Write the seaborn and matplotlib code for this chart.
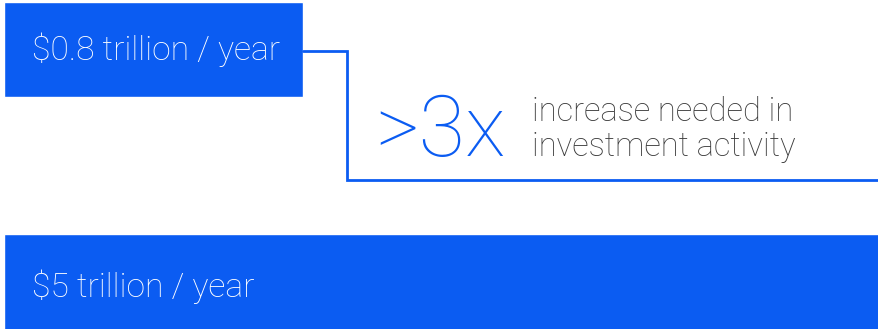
import matplotlib
matplotlib.use("Agg")
import matplotlib.pyplot as plt
import seaborn as sns
import pandas as pd

# Data
categories = ["current", "needed"]
bar_labels = ["$0.8 trillion / year", "$5 trillion / year"]
bar_lengths = [1.71, 5.0]          # drawn bar lengths
multiplier_text = ">3x"
note_text = "increase needed in\ninvestment activity"

BLUE = "#0b5cf2"
GRAY = "#3a3a3a"

sns.set_theme(style="white")
plt.rcParams["font.family"] = ["Roboto", "DejaVu Sans"]

df = pd.DataFrame({"cat": categories, "len": bar_lengths})

fig = plt.figure(figsize=(8.79, 3.29), dpi=100)
ax = fig.add_axes([4 / 879, 0, 1 - 4 / 879, 1])
sns.barplot(data=df, y="cat", x="len", orient="h", color=BLUE,
            saturation=1, width=0.409, ax=ax)

ax.set_xlim(0, 5.0)
ax.set_ylim(1.202, -0.213)
ax.axis("off")

# labels inside bars
label_dy = [0.0, 0.02]
for i, lab in enumerate(bar_labels):
    ax.text(0.16, i + label_dy[i], lab, color="white", fontsize=24.2,
            fontweight="light", va="center", ha="left")

# connector
x0 = bar_lengths[0]
xe = x0 + 0.25
ax.plot([x0, xe, xe, 5.2], [0.006, 0.006, 0.561, 0.561], color=BLUE,
        lw=2, clip_on=False, solid_joinstyle="miter")

ax.text(2.12, 0.36, multiplier_text, color=BLUE, fontsize=61,
        fontweight="light", va="center", ha="left")
ax.text(3.02, 0.345, note_text, color=GRAY, fontsize=23.5, fontweight="light",
        va="center", ha="left", linespacing=1.1)

fig.savefig("out.png", dpi=100)
